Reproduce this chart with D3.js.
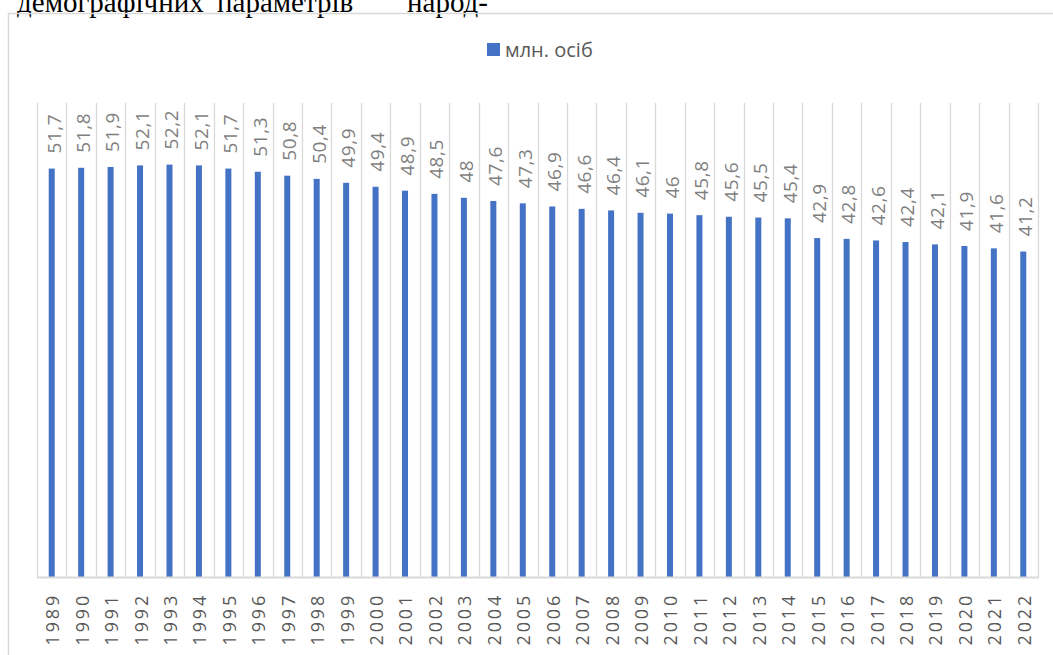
<!DOCTYPE html>
<html lang="uk">
<head>
    <meta charset="UTF-8">
    <title>млн. осіб</title>
    <script src="https://d3js.org/d3.v7.min.js"></script>
    <style>
        body {
            margin: 0;
            background: #fff;
            overflow: hidden;
        }
        svg text {
            font-family: "Open Sans", "Noto Sans", sans-serif;
        }
        .doc-text {
            font-family: "Liberation Serif", "DejaVu Serif", serif !important;
            font-size: 29px;
            fill: #000;
        }
    </style>
</head>
<body>
    <svg id="chart" width="1053" height="655"></svg>

    <script>
        // data
        const years = ["1989", "1990", "1991", "1992", "1993", "1994", "1995", "1996", "1997", "1998",
            "1999", "2000", "2001", "2002", "2003", "2004", "2005", "2006", "2007", "2008",
            "2009", "2010", "2011", "2012", "2013", "2014", "2015", "2016", "2017", "2018",
            "2019", "2020", "2021", "2022"];
        const population = [51.7, 51.8, 51.9, 52.1, 52.2, 52.1, 51.7, 51.3, 50.8, 50.4,
            49.9, 49.4, 48.9, 48.5, 48, 47.6, 47.3, 46.9, 46.6, 46.4,
            46.1, 46, 45.8, 45.6, 45.5, 45.4, 42.9, 42.8, 42.6, 42.4,
            42.1, 41.9, 41.6, 41.2];
        const seriesName = "млн. осіб";
        const docWords = [
            { text: "демографічних", x: 17 },
            { text: "параметрів", x: 217 },
            { text: "народ-", x: 407 }
        ];

        const svg = d3.select("#chart");

        // document text above the chart (cut off by the page edge, as in the screenshot)
        svg.selectAll(".doc-text")
            .data(docWords)
            .enter().append("text")
            .attr("class", "doc-text")
            .attr("x", d => d.x)
            .attr("y", 12)
            .text(d => d.text);

        // chart frame (runs off the page on the right and bottom)
        svg.append("rect")
            .attr("x", 8.5)
            .attr("y", 13.5)
            .attr("width", 1100)
            .attr("height", 700)
            .attr("fill", "none")
            .attr("stroke", "#d9d9d9")
            .attr("stroke-width", 1.5);

        const plot = { left: 37, right: 1038, top: 103, bottom: 577 };

        const x = d3.scaleBand()
            .domain(years)
            .range([plot.left, plot.right]);

        const y = d3.scaleLinear()
            .domain([0, 60])
            .range([plot.bottom, plot.top]);

        // vertical gridlines between categories
        const bounds = years.map(d => x(d)).concat([plot.right]);
        svg.selectAll(".grid")
            .data(bounds)
            .enter().append("line")
            .attr("x1", d => Math.round(d) + 0.5)
            .attr("x2", d => Math.round(d) + 0.5)
            .attr("y1", plot.top)
            .attr("y2", plot.bottom)
            .attr("stroke", "#d9d9d9")
            .attr("stroke-width", 1.3);

        // bars
        const barW = 6;
        svg.selectAll(".bar")
            .data(population)
            .enter().append("rect")
            .attr("x", (d, i) => x(years[i]) + x.bandwidth() / 2 - barW / 2)
            .attr("y", d => y(d))
            .attr("width", barW)
            .attr("height", d => y(0) - y(d))
            .attr("fill", "#4472c4");

        // baseline
        svg.append("line")
            .attr("x1", plot.left)
            .attr("x2", plot.right + 1)
            .attr("y1", plot.bottom + 0.5)
            .attr("y2", plot.bottom + 0.5)
            .attr("stroke", "#d9d9d9")
            .attr("stroke-width", 2);

        // value labels
        svg.selectAll(".val")
            .data(population)
            .enter().append("text")
            .attr("transform", (d, i) => `translate(${x(years[i]) + x.bandwidth() / 2 + 2},${y(d) - 15}) rotate(-90)`)
            .attr("dy", "0.36em")
            .attr("font-size", 19)
            .attr("letter-spacing", 0.6)
            .attr("fill", "#7f7f7f")
            .text(d => String(d).replace(".", ","));

        // year labels
        svg.selectAll(".year")
            .data(years)
            .enter().append("text")
            .attr("transform", d => `translate(${x(d) + x.bandwidth() / 2 + 1},593) rotate(-90)`)
            .attr("text-anchor", "end")
            .attr("dy", "0.36em")
            .attr("font-size", 18)
            .attr("letter-spacing", 2.8)
            .attr("fill", "#595959")
            .text(d => d);

        // legend
        svg.append("rect")
            .attr("x", 487)
            .attr("y", 43)
            .attr("width", 13)
            .attr("height", 13)
            .attr("fill", "#4472c4");
        svg.append("text")
            .attr("x", 505)
            .attr("y", 57)
            .attr("font-size", 20)
            .attr("fill", "#595959")
            .text(seriesName);
    </script>
</body>
</html>
